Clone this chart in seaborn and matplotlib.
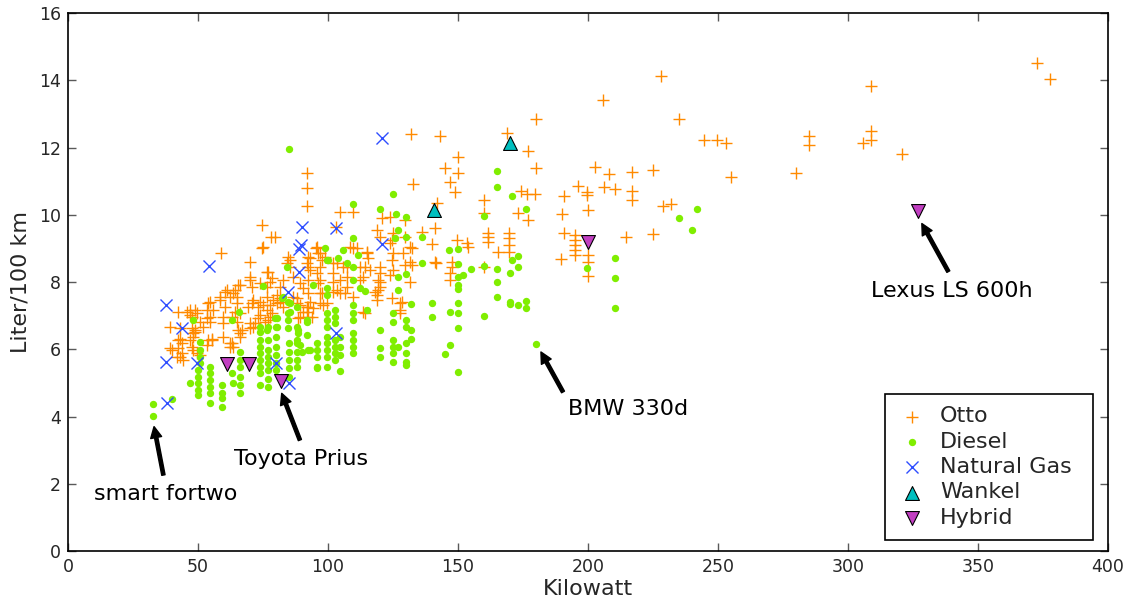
import matplotlib
matplotlib.use("Agg")
import matplotlib.pyplot as plt
import seaborn as sns
import pandas as pd

# ---------------- data (kW, Liter/100 km) ----------------
otto_kw = [372.7, 377.7, 309, 309, 309, 305.9, 320.8, 284.9, 284.9, 280, 255, 244.8, 249.7, 253,
           234.9, 227.9, 205.9, 180, 168.8, 177, 180, 202.8, 207.9, 217, 224.9, 196, 199.8, 199.8,
           206, 210.2, 217, 217, 190.8, 174.4, 176.7, 179.7, 228.8, 231.9, 200, 189.9, 172.9, 177,
           160, 160, 190.8, 195, 195, 195, 195, 195, 189.6, 200, 200, 200, 214.7, 224.9, 161.5,
           161.5, 161.5, 165.3, 160, 169.8, 169.8, 169.8, 169.8,
           131.9, 143.1, 149.9, 145, 149.9, 146.9, 148.8, 132.8, 141.8, 141.2, 136, 139.9, 149.5,
           153.3, 154, 147.6, 147.6, 146.9, 146.9, 141.5,
           91.8, 91.8, 91.8, 104.6, 109.7, 103, 120.6, 123.8, 129.6, 118.7, 125.1, 124.5, 120, 129.6,
           132.2, 131.5, 129, 131.5, 129.6, 132.2, 141.2, 111, 114.9, 115.5, 114.2, 113.6, 116.2,
           114.9, 120, 119.3, 120, 118.1, 118.7, 120, 120, 119.3, 118.7, 124.5, 125.1, 123.8, 125.1,
           124.5, 128.3, 127.7, 127.7, 131.5, 113.6, 114.2, 127.7, 98.2, 103.3, 105.9, 102, 104.6,
           107.2, 103.3, 106.5, 109.7, 112.3, 112.3, 107.2, 107.2, 104.6, 102, 102, 102, 96.9, 96.9,
           96.9, 96.9, 96.9, 92.3, 92.3, 92.3, 92.3, 92.3, 92.3, 108.5, 109.7, 95.6, 123.8, 95.4,
           96.3, 97.6, 91.8, 93.1, 98.8, 95.6, 96.3,
           74.7, 78, 79.6, 74.7, 58.8, 70, 84.7, 85.4, 77, 66.2, 70, 70.6, 61, 63.6, 64.9, 54.6, 53.3,
           54.6, 54.6, 58.5, 46.9, 47.6, 42.4, 39.2, 48.8, 48.2, 42.4, 43.7, 39.9, 43.1, 44.3, 48.2,
           49.5, 55.3, 62.3, 63.6, 66.2, 66.8, 59.7, 59.7, 63, 64.2, 69.3, 70.6, 73.8, 75.1, 76.4,
           79, 80.3, 81.5, 70, 71.3, 75.8, 77.7, 73.8, 76.4, 77.7, 81.5, 82.8, 86.7, 89.2, 90.5,
           86.7, 88, 91.8, 89.2, 91.8, 84.1, 85.4, 93.1, 73.2, 55.9, 50.8, 52, 75.1, 76.4, 78.3, 70,
           65.5, 64.2, 60.4, 62.3, 58.5, 60.4, 59.7, 64.9, 66.2, 64.9, 71.3, 73.2, 73.8, 71.9, 70,
           76.4, 77.7, 78.3, 77, 80.3, 81.5, 82.8, 88, 89.2, 90.5, 88.6, 93.1, 94.4, 93.7, 97.6,
           99.5, 65.5, 66.2, 63, 62.3, 55.3, 45.6, 46.9, 48.8, 49.5, 54, 53.3, 43.1, 47.6, 48.8,
           48.2, 43.1, 42.4, 39.2, 43.7, 41.8, 47.6, 46.9, 54, 53.3, 50.8]
otto_l = [14.5, 14.04, 13.84, 12.5, 12.22, 12.12, 11.8, 12.34, 12.07, 11.23, 11.13, 12.22, 12.22, 12.14,
          12.84, 14.13, 13.41, 12.84, 12.44, 11.9, 11.38, 11.41, 11.2, 11.26, 11.33, 10.86, 10.67, 10.59,
          10.83, 10.76, 10.71, 10.44, 10.56, 10.71, 10.61, 10.61, 10.26, 10.32, 10.14, 10.01, 10.04, 9.84,
          10.44, 10.04, 9.47, 9.4, 9.25, 9.1, 8.95, 8.8, 8.67, 8.8, 8.6, 8.18, 9.35, 9.43, 9.47,
          9.35, 9.2, 8.88, 8.46, 9.47, 9.3, 9.1, 8.9,
          12.39, 12.34, 11.71, 11.38, 11.23, 10.98, 10.69, 10.93, 10.34, 9.62, 9.5, 9.13, 9.25,
          9.15, 9.05, 8.6, 8.46, 8.26, 8.06, 8.56,
          11.23, 10.79, 10.27, 10.09, 10.09, 9.65, 9.89, 9.94, 9.84, 9.55, 9.45, 9.25, 9.35, 9.35,
          9.0, 9.05, 8.85, 8.6, 8.5, 8.5, 8.6, 9.0, 8.9, 8.7, 8.46, 8.16, 8.36,
          8.85, 8.46, 8.06, 7.86, 7.71, 7.61, 8.26, 8.01, 7.76, 7.46, 8.65, 8.36, 8.21, 8.85,
          7.52, 7.41, 7.17, 7.37, 8.01, 7.12, 7.07, 7.07, 7.32, 8.56, 8.46, 8.26, 8.06,
          8.16, 7.76, 7.66, 7.56, 8.46, 8.06, 8.46, 7.86, 7.66, 8.56, 8.01, 7.71, 8.85, 8.46,
          8.06, 7.66, 7.37, 8.75, 8.46, 8.06, 7.66, 7.27, 6.97, 9.05, 9.0, 9.05, 9.15, 9.0,
          8.85, 8.65, 8.56, 8.36, 8.75, 8.26, 7.96,
          9.69, 9.33, 9.35, 9.0, 8.87, 8.6, 8.75, 8.65, 8.31, 7.91, 8.06, 7.86, 7.76, 7.66, 7.56, 7.41, 7.17,
          6.97, 6.82, 7.56, 7.17, 6.97, 7.12, 6.67, 6.57, 6.47, 6.27, 6.18, 5.98, 5.78, 5.68, 5.98,
          5.88, 6.27, 6.18, 6.08, 6.47, 6.57, 6.37, 6.77, 6.97, 7.12, 7.27, 7.37, 7.41, 7.32, 7.17,
          7.46, 7.37, 7.52, 6.77, 6.67, 6.82, 6.97, 7.96, 7.86, 8.01, 7.86, 8.06, 8.16, 7.96, 7.81,
          7.56, 7.37, 7.27, 6.97, 7.12, 8.56, 8.46, 8.7, 6.92, 7.17, 6.82, 6.67, 9.05, 8.31, 8.11, 8.16,
          7.91, 7.76, 7.71, 7.56, 7.46, 7.27, 6.97, 7.37, 7.07, 6.82, 7.46, 7.27, 7.02, 6.77, 6.62,
          7.56, 7.32, 7.07, 6.87, 7.61, 7.41, 7.27, 7.52, 7.32, 7.12, 6.92, 7.41, 7.22, 6.97, 7.66,
          7.37, 6.57, 6.37, 6.18, 6.08, 6.32, 7.12, 7.02, 7.17, 7.07, 7.37, 6.92, 6.62, 6.62, 6.52,
          6.37, 6.32, 6.03, 6.03, 5.88, 5.78, 6.08, 6.27, 6.27, 6.13, 5.83]

diesel_kw = [84.9, 84.1, 74.9, 65.9, 63, 47.9, 94.4, 91.8, 91.8, 88.6, 88.6, 85.4, 84.7, 82.8, 79.6,
             79.9, 76.4, 77,
             73.8, 73.8, 73.8, 73.8, 73.8, 73.8, 73.8, 73.8, 73.8,
             77, 77, 77, 77, 77, 77, 77,
             80, 80, 80, 80, 80,
             85.1, 85.1, 85.1, 85.1, 85.1,
             88, 88, 88, 88,
             92.4, 95.6, 95.6, 95.6, 95.6, 95.6, 89.9,
             66.2, 66.2, 66.2, 66.2, 66.2, 66.2,
             50.8, 50.8, 50.8, 50.8,
             50.1, 50.1, 50.1, 50.1, 50.1, 46.9,
             54.6, 54.6, 54.6, 54.6, 54.6, 54.6,
             59.2, 59.2, 59.2, 59.2, 32.8, 32.8, 39.9, 63, 63.6,
             98.8, 99.5, 84.7, 82.2, 88, 80.3, 85.4, 84.7, 91.8, 80.3, 84.7, 88, 88, 89.2, 93.1,
             124.9, 109.7, 120, 126.2, 130, 109.7, 105.9, 100.1, 104, 107.2, 109.7, 111.7, 127,
             125.8, 130, 136, 136, 127, 130, 127, 109.7, 112.3, 114.2, 99.5, 99.5,
             109.7, 109.7, 109.7, 109.7, 109.7, 109.7, 109.7,
             102.7, 102.7, 102.7, 102.7, 102.7, 102.7, 102.7,
             99.5, 99.5, 99.5, 99.5, 99.5, 99.5, 99.5, 99.5,
             104.6, 104.6, 104.6, 104.6, 114.9, 120, 120, 120,
             124.9, 124.9, 124.9, 124.9, 124.9, 124.9, 127,
             130, 130, 130, 130, 130, 130, 131.8, 131.8, 131.8,
             139.9, 139.9, 145, 146.7, 164.9, 164.9, 170.9, 176, 160, 150.1,
             150.1, 150.1, 150.1, 150.1, 154.9, 152, 160, 164.9, 164.9, 164.9,
             170.9, 172.9, 172.9, 170, 170, 170, 172.9, 176, 176, 150.1, 150.1, 146.9, 160, 150.1,
             146.9, 150.1, 180, 199.5, 242.1, 234.9, 239.9, 210.2, 210.2, 210.2]
diesel_l = [11.95, 8.46, 7.89, 7.11, 6.87, 6.87, 7.91, 6.82, 6.42, 6.57, 6.47, 7.37, 7.07, 7.56, 6.92,
            6.67, 6.57, 6.67,
            6.67, 6.52, 6.27, 6.08, 5.88, 5.68, 5.48, 5.28, 4.94,
            6.27, 5.98, 5.78, 5.58, 5.38, 5.13, 4.89,
            6.37, 6.08, 5.83, 5.58, 5.38,
            6.18, 5.93, 5.68, 5.43, 5.18,
            6.18, 5.93, 5.68, 5.47,
            5.98, 5.98, 5.78, 5.43, 6.18, 5.48, 5.93,
            5.93, 5.68, 5.48, 5.18, 4.94, 4.69,
            6.22, 5.98, 5.78, 5.58,
            5.38, 5.18, 4.99, 4.79, 4.64, 4.99,
            5.48, 5.28, 5.08, 4.89, 4.69, 4.39,
            4.94, 4.69, 4.54, 4.29, 4.37, 4.02, 4.51, 5.3, 4.99,
            9.0, 8.65, 7.41, 7.52, 7.27, 6.92, 7.12, 6.87, 6.87, 6.67, 6.62, 6.67, 6.27, 6.13, 5.98,
            10.62, 10.32, 10.16, 10.02, 9.94, 9.3, 8.95, 8.65, 8.7, 8.56, 8.46, 8.8, 9.55,
            9.3, 9.33, 9.35, 8.56, 8.16, 8.24, 7.76, 8.06, 7.81, 7.73, 7.81, 7.61,
            7.32, 7.07, 6.87, 6.47, 6.27, 6.08, 5.88,
            7.17, 6.97, 6.77, 6.27, 6.08, 5.88, 5.68,
            7.07, 6.87, 6.67, 6.37, 6.18, 5.98, 5.78, 5.48,
            6.37, 6.08, 5.83, 5.36, 7.17, 6.57, 6.03, 5.78,
            7.07, 6.82, 6.27, 6.08, 5.88, 5.63, 6.08,
            6.87, 6.67, 6.18, 5.88, 5.63, 5.53, 7.35, 6.57, 6.32,
            7.37, 6.97, 5.86, 8.95, 11.31, 10.83, 10.57, 10.18, 9.97, 8.98,
            8.53, 8.14, 7.91, 7.78, 8.39, 8.21, 8.48, 8.39, 8.01, 7.56,
            8.66, 8.76, 8.46, 8.26, 7.41, 7.34, 7.32, 7.43, 7.24, 7.38, 7.09, 7.1, 6.99, 6.62,
            6.13, 5.33, 6.16, 8.43, 10.18, 9.91, 9.54, 8.71, 8.11, 7.22]

gas_kw = [37.7, 43.7, 37.7, 38, 54.3, 49.8, 84.6, 89.9, 89.5, 89, 89, 80, 85.1, 103.1, 120.9, 120.9, 103.1]
gas_l = [7.32, 6.62, 5.62, 4.41, 8.47, 5.59, 7.7, 9.65, 9.1, 8.97, 8.31, 5.58, 4.99, 9.6, 9.12, 12.29, 6.49]

wankel_kw = [140.8, 170]
wankel_l = [10.14, 12.13]

hybrid_kw = [61, 69.7, 81.9, 200, 326.9]
hybrid_l = [5.55, 5.55, 5.07, 9.19, 10.11]

labels = ["Otto", "Diesel", "Natural Gas", "Wankel", "Hybrid"]
x_ticks = [0, 50, 100, 150, 200, 250, 300, 350, 400]
y_ticks = [0, 2, 4, 6, 8, 10, 12, 14, 16]

# annotations: label, point (kW, L), arrow tail (kW, L), text anchor (kW, L)
notes = [("smart fortwo", (33.1, 3.7), (36.7, 2.26), (10, 1.7)),
         ("Toyota Prius", (82.2, 4.69), (89.2, 3.3), (63.8, 2.73)),
         ("BMW 330d", (181.9, 5.92), (190.4, 4.73), (192.3, 4.22)),
         ("Lexus LS 600h", (328.4, 9.74), (338.6, 8.31), (308.8, 7.73))]

# ---------------- figure ----------------
sns.set_style("ticks")
plt.rcParams["font.family"] = ["DejaVu Sans"]

fig = plt.figure(figsize=(11.35, 6.03), dpi=100)
ax = fig.add_axes([0.0599, 0.0862, 0.9163, 0.8922])

sns.scatterplot(x=otto_kw, y=otto_l, marker="+", color="#ff8a00", s=78, linewidth=1.0,
                label=labels[0], ax=ax, zorder=2)
sns.scatterplot(x=diesel_kw, y=diesel_l, marker="o", color="#80ee00", s=28, linewidth=0,
                label=labels[1], ax=ax, zorder=3)
sns.scatterplot(x=gas_kw, y=gas_l, marker="x", color="#2e4dff", s=75, linewidth=1.0,
                label=labels[2], ax=ax, zorder=4)
sns.scatterplot(x=wankel_kw, y=wankel_l, marker="^", color="#00bfbf", edgecolor="black",
                s=100, linewidth=0.8, label=labels[3], ax=ax, zorder=5)
sns.scatterplot(x=hybrid_kw, y=hybrid_l, marker="v", color="#c23fc2", edgecolor="black",
                s=100, linewidth=0.8, label=labels[4], ax=ax, zorder=6)

for text, tip, tail, pos in notes:
    ax.annotate("", xy=tip, xytext=tail,
                arrowprops=dict(facecolor="black", edgecolor="black", width=2.4,
                                headwidth=8, headlength=8, shrink=0.0))
    ax.text(pos[0], pos[1], text, fontsize=16, ha="left", va="center", color="black")

ax.set_xlim(0, 400)
ax.set_ylim(0, 16)
ax.set_xticks(x_ticks)
ax.set_yticks(y_ticks)
ax.tick_params(direction="in", length=6, width=1, color="0.35", labelsize=12.5,
               top=True, right=True, pad=5)
for sp in ax.spines.values():
    sp.set_visible(True)
    sp.set_color("black")
    sp.set_linewidth(1.2)
ax.set_xlabel("Kilowatt", fontsize=16, labelpad=2)
ax.set_ylabel("Liter/100 km", fontsize=16, labelpad=6)

# legend box: left at 0.7856, right at 0.9856, bottom at 0.0204 (axes fraction)
leg = ax.legend(loc="lower left", bbox_to_anchor=(0.7856, 0.0204, 0.2, 0.27), mode="expand",
                fontsize=16, frameon=True, fancybox=False, edgecolor="black", framealpha=1,
                labelspacing=0.24, handlelength=1.3, handletextpad=0.62,
                borderpad=0.55, borderaxespad=0.0)
leg.get_frame().set_linewidth(1.2)

fig.savefig("out.png", dpi=100)
